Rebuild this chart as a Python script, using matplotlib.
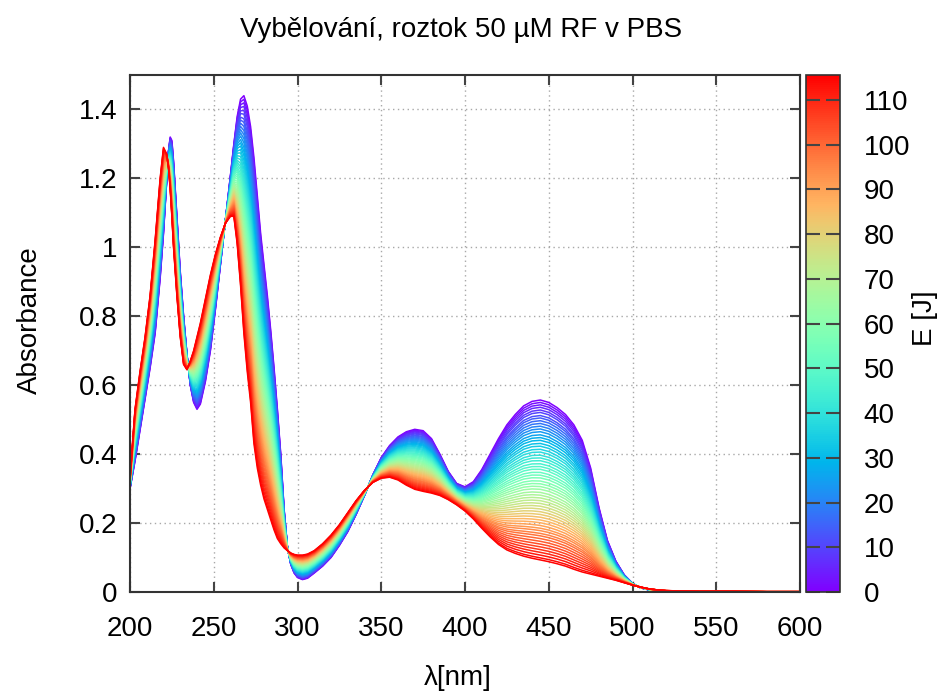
import numpy as np
import matplotlib
matplotlib.use('Agg')
import matplotlib.pyplot as plt
from matplotlib.colors import Normalize
from matplotlib.cm import ScalarMappable

plt.rcParams['font.family'] = ['Liberation Sans', 'DejaVu Sans']

# wavelength grid [nm]
wl = [200, 203, 206, 209, 212, 215, 218, 220, 222, 223, 224, 225, 226, 228, 230, 232, 234, 236, 238,
      240, 242, 245, 248, 251, 254, 257, 260, 262, 264, 266, 268, 270, 272, 274, 276, 278,
      280, 282, 284, 286, 288, 290, 292, 294, 296, 298, 300, 303, 306, 310, 315, 320, 325,
      330, 335, 340, 345, 350, 355, 360, 365, 370, 375, 380, 385, 390, 395, 400, 405, 410,
      415, 420, 425, 430, 435, 440, 445, 450, 455, 460, 465, 470, 475, 480, 485, 490, 495,
      500, 505, 510, 515, 520, 530, 540, 560, 580, 600]

# spectrum before bleaching (E = 0)
abs_start = [0.30, 0.38, 0.47, 0.56, 0.65, 0.75, 0.91, 1.04, 1.20, 1.28, 1.32, 1.31, 1.25, 1.09, 0.93, 0.80,
             0.69, 0.60, 0.55, 0.53, 0.545, 0.61, 0.70, 0.82, 0.95, 1.08, 1.21, 1.30, 1.38, 1.43,
             1.44, 1.41, 1.35, 1.26, 1.15, 1.04, 0.95, 0.86, 0.76, 0.65, 0.53, 0.40, 0.24, 0.13,
             0.08, 0.055, 0.042, 0.036, 0.04, 0.055, 0.075, 0.10, 0.135, 0.175, 0.225, 0.28, 0.34,
             0.39, 0.425, 0.45, 0.465, 0.472, 0.468, 0.445, 0.40, 0.35, 0.315, 0.305, 0.32, 0.355,
             0.40, 0.445, 0.485, 0.515, 0.54, 0.553, 0.557, 0.55, 0.535, 0.515, 0.485, 0.44, 0.36,
             0.245, 0.15, 0.09, 0.05, 0.025, 0.012, 0.006, 0.003, 0.002, 0.001, 0.0, 0.0, 0.0, 0.0]

# spectrum after the last dose
abs_end = [0.33, 0.53, 0.64, 0.74, 0.86, 1.02, 1.20, 1.29, 1.27, 1.23, 1.17, 1.09, 1.00, 0.86, 0.74, 0.66,
           0.645, 0.67, 0.70, 0.74, 0.78, 0.85, 0.92, 0.98, 1.03, 1.07, 1.09, 1.09, 1.01, 0.89,
           0.75, 0.64, 0.55, 0.43, 0.36, 0.31, 0.27, 0.24, 0.21, 0.18, 0.155, 0.14, 0.128, 0.12,
           0.113, 0.109, 0.107, 0.107, 0.11, 0.12, 0.14, 0.165, 0.195, 0.23, 0.265, 0.295, 0.318,
           0.33, 0.333, 0.325, 0.31, 0.298, 0.292, 0.287, 0.28, 0.268, 0.253, 0.235, 0.212, 0.185,
           0.16, 0.138, 0.122, 0.112, 0.104, 0.098, 0.093, 0.088, 0.082, 0.075, 0.066, 0.058, 0.052,
           0.046, 0.04, 0.034, 0.027, 0.02, 0.014, 0.009, 0.006, 0.004, 0.003, 0.002, 0.002, 0.001, 0.001]

# irradiation energy of each measured spectrum [J]
energy = [0, 2, 4, 6, 8, 10, 12, 14, 16, 18, 20, 22, 24, 26, 28, 30, 32, 34, 36, 38, 40,
          42, 44, 46, 48, 50, 52, 54, 56, 58, 60, 62, 64, 66, 68, 70, 72, 74, 76, 78, 80,
          82, 84, 86, 88, 90, 92, 94, 96, 98, 100, 102, 104, 106, 108, 110, 112, 114, 115.6]

# absorbance at 445 nm for each spectrum
abs445 = [0.557, 0.550, 0.543, 0.536, 0.528, 0.521, 0.512, 0.505, 0.497, 0.489, 0.481,
          0.473, 0.465, 0.456, 0.448, 0.440, 0.431, 0.423, 0.414, 0.406, 0.397,
          0.389, 0.381, 0.372, 0.364, 0.356, 0.347, 0.339, 0.331, 0.322, 0.314,
          0.306, 0.298, 0.289, 0.281, 0.273, 0.265, 0.257, 0.249, 0.241, 0.233,
          0.225, 0.217, 0.209, 0.201, 0.193, 0.185, 0.178, 0.170, 0.163, 0.155,
          0.147, 0.139, 0.131, 0.123, 0.115, 0.107, 0.099, 0.093]

wl = np.array(wl)
a0 = np.array(abs_start)
a1 = np.array(abs_end)
i445 = wl.tolist().index(445)

cmap = plt.get_cmap('rainbow')
norm = Normalize(0, 115.6)

W, H = 946, 697
fig = plt.figure(figsize=(W / 100, H / 100), dpi=100)
ax = fig.add_axes([130 / W, 1 - 592 / H, 670 / W, 517 / H])

for e, a in zip(energy, abs445):
    frac = (a0[i445] - a) / (a0[i445] - a1[i445])
    ax.plot(wl, a0 + frac * (a1 - a0), color=cmap(norm(e)), lw=1.1)

ax.set_xlim(200, 600)
ax.set_ylim(0, 1.5)
ax.set_xticks(range(200, 601, 50))
ax.set_yticks([0, 0.2, 0.4, 0.6, 0.8, 1, 1.2, 1.4])
ax.set_yticklabels(['0', '0.2', '0.4', '0.6', '0.8', '1', '1.2', '1.4'])
ax.grid(True, color='#a8a8a8', lw=1, ls=(0, (1, 2.5)))
ax.tick_params(direction='in', length=7, width=1.5, color='#444444',
               top=True, right=True, labelsize=20)
ax.tick_params(axis='x', pad=17)
ax.tick_params(axis='y', pad=9)
for s in ax.spines.values():
    s.set_linewidth(1.5)
    s.set_color('#333333')

cax = fig.add_axes([806 / W, 1 - 592 / H, 34 / W, 517 / H])
cb = fig.colorbar(ScalarMappable(norm=norm, cmap=cmap), cax=cax)
cb.set_ticks(range(0, 111, 10))
cb.outline.set_linewidth(1.2)
cb.outline.set_edgecolor('#333333')
cax.tick_params(direction='in', length=10, width=1.5, color='#444444',
                left=True, right=True, labelsize=20, pad=17)

fig.text(461 / W, 1 - 30 / H, 'Vybělování, roztok 50 µM RF v PBS', ha='center', va='center', fontsize=20)
fig.text(30 / W, 1 - 320 / H, 'Absorbance', rotation=90, ha='center', va='center', fontsize=20)
fig.text(458 / W, 1 - 678 / H, 'λ[nm]', ha='center', va='center', fontsize=20)
fig.text(925 / W, 1 - 318 / H, 'E [J]', rotation=90, ha='center', va='center', fontsize=20)

fig.savefig('out.png', dpi=100)
